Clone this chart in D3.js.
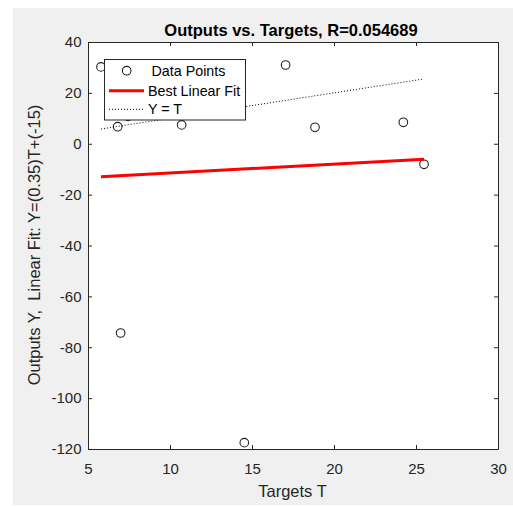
<!DOCTYPE html>
<html>
<head>
<meta charset="utf-8">
<script src="https://cdn.jsdelivr.net/npm/d3@7"></script>
<style>
  html, body { margin: 0; padding: 0; background: #ffffff; }
  svg { display: block; }
  text { font-family: "Liberation Sans", Arial, Helvetica, sans-serif; }
</style>
</head>
<body>
<script>
// ---- Data ----
const targets = [5.79, 6.81, 7.44, 10.71, 17.05, 18.84, 24.23, 25.49, 6.99, 14.53];
const outputs = [30.2, 6.7, 10.8, 7.4, 30.96, 6.47, 8.44, -8.08, -74.4, -117.5];
const fitSlope = [0.35];
const fitIntercept = [-15];
const xTicks = [5, 10, 15, 20, 25, 30];
const yTicks = [-120, -100, -80, -60, -40, -20, 0, 20, 40];
const legendLabels = ["Data Points", "Best Linear Fit", "Y = T"];
const titleText = "Outputs vs. Targets, R=0.054689";
const xLabel = "Targets T";
const yLabel = "Outputs Y,  Linear Fit: Y=(0.35)T+(-15)";

// ---- Layout ----
const W = 513, H = 507;
const plot = { left: 88, top: 42, right: 498, bottom: 449 };
const axisColor = "#262626";

const svg = d3.select("body").append("svg").attr("width", W).attr("height", H);
svg.append("rect").attr("x", 13).attr("y", 8).attr("width", W - 13).attr("height", H - 10).attr("fill", "#f0f0f0");

const x = d3.scaleLinear().domain([5, 30]).range([plot.left, plot.right]);
const y = d3.scaleLinear().domain([-120, 40]).range([plot.bottom, plot.top]);

// plot area
svg.append("rect").attr("x", plot.left).attr("y", plot.top)
  .attr("width", plot.right - plot.left).attr("height", plot.bottom - plot.top)
  .attr("fill", "#ffffff");

function styleAxis(g, showText) {
  g.select(".domain").attr("stroke", axisColor).attr("stroke-width", 1);
  g.selectAll(".tick line").attr("stroke", axisColor);
  g.selectAll(".tick text").attr("fill", axisColor).style("font-size", "15px")
    .style("font-family", '"Liberation Sans", Arial, sans-serif');
  if (!showText) g.selectAll(".tick text").remove();
}

const fmt = d => d < 0 ? "-" + Math.abs(d) : String(d);

svg.append("g").attr("transform", `translate(0,${plot.bottom})`)
  .call(d3.axisBottom(x).tickValues(xTicks).tickFormat(fmt).tickSizeInner(-4).tickSizeOuter(0).tickPadding(14.3))
  .call(g => styleAxis(g, true));
svg.append("g").attr("transform", `translate(0,${plot.top})`)
  .call(d3.axisTop(x).tickValues(xTicks).tickSizeInner(-4).tickSizeOuter(0))
  .call(g => styleAxis(g, false));
svg.append("g").attr("transform", `translate(${plot.left},0)`)
  .call(d3.axisLeft(y).tickValues(yTicks).tickFormat(fmt).tickSizeInner(-4).tickSizeOuter(0).tickPadding(6.5))
  .call(g => styleAxis(g, true));
svg.append("g").attr("transform", `translate(${plot.right},0)`)
  .call(d3.axisRight(y).tickValues(yTicks).tickSizeInner(-4).tickSizeOuter(0))
  .call(g => styleAxis(g, false));

// data
const pts = targets.map((t, i) => ({ t, o: outputs[i] }));
const tMin = d3.min(targets), tMax = d3.max(targets);

svg.append("g").selectAll("circle").data(pts).join("circle")
  .attr("cx", d => x(d.t)).attr("cy", d => y(d.o)).attr("r", 4.3)
  .attr("fill", "none").attr("stroke", "#222").attr("stroke-width", 1.1);

const fit = t => fitSlope[0] * t + fitIntercept[0];
svg.append("line")
  .attr("x1", x(tMin)).attr("y1", y(fit(tMin)))
  .attr("x2", x(tMax)).attr("y2", y(fit(tMax)))
  .attr("stroke", "#ff0000").attr("stroke-width", 3);

svg.append("line")
  .attr("x1", x(tMin)).attr("y1", y(tMin))
  .attr("x2", x(tMax)).attr("y2", y(tMax))
  .attr("stroke", "#000").attr("stroke-width", 1).attr("stroke-dasharray", "1,2");

// legend
const lg = svg.append("g");
lg.append("rect").attr("x", 104.5).attr("y", 59.5).attr("width", 141).attr("height", 60.5)
  .attr("fill", "#ffffff").attr("stroke", axisColor).attr("stroke-width", 1);
lg.append("circle").attr("cx", 126.7).attr("cy", 70.7).attr("r", 4.3)
  .attr("fill", "none").attr("stroke", "#222").attr("stroke-width", 1.1);
lg.append("line").attr("x1", 109).attr("x2", 144).attr("y1", 90.7).attr("y2", 90.7)
  .attr("stroke", "#ff0000").attr("stroke-width", 3);
lg.append("line").attr("x1", 109).attr("x2", 144).attr("y1", 109.3).attr("y2", 109.3)
  .attr("stroke", "#000").attr("stroke-width", 1).attr("stroke-dasharray", "1,2");
const legX = [151.5, 148, 148];
const legY = [75.8, 95.8, 114.4];
lg.selectAll("text.leg").data(legendLabels).join("text").attr("class", "leg")
  .attr("x", (d, i) => legX[i]).attr("y", (d, i) => legY[i])
  .attr("fill", "#000").style("font-size", "14.3px").text(d => d);

// title & labels
svg.append("text").attr("x", 291).attr("y", 35.5).attr("text-anchor", "middle")
  .style("font-size", "16.5px").style("font-weight", "bold").attr("fill", "#000").text(titleText);
svg.append("text").attr("x", 292.5).attr("y", 496.5).attr("text-anchor", "middle")
  .style("font-size", "16.5px").attr("fill", axisColor).text(xLabel);
svg.append("text").attr("transform", `translate(40,245) rotate(-90)`).attr("text-anchor", "middle")
  .attr("xml:space", "preserve").style("white-space", "pre")
  .style("font-size", "16.5px").attr("fill", axisColor).text(yLabel);
</script>
</body>
</html>
